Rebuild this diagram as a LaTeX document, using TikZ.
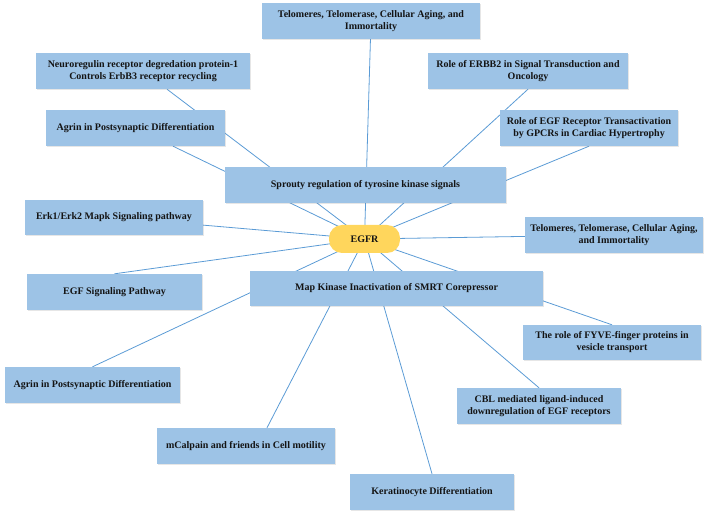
\documentclass[tikz,border=0pt]{standalone}
\usepackage{fontspec}
\setmainfont{Liberation Serif}
\usetikzlibrary{backgrounds,shadows}
\definecolor{boxblue}{RGB}{157,195,230}
\definecolor{linkblue}{RGB}{91,155,213}
\definecolor{hubgold}{RGB}{255,214,92}
\definecolor{inkdark}{RGB}{20,20,20}

\begin{document}
\begin{tikzpicture}[x=1pt, y=-1pt,
    box/.style={fill=boxblue, minimum height=36pt, inner sep=0pt, align=center,
        text=inkdark, font=\bfseries\fontsize{10}{12}\selectfont,
        drop shadow={shadow xshift=1pt, shadow yshift=-1pt, opacity=.2, fill=black!50}},
    hub/.style={fill=hubgold, rounded corners=13pt, minimum width=71pt, minimum height=28pt,
        inner sep=0pt, text=inkdark, font=\bfseries\fontsize{10}{12}\selectfont},
    link/.style={draw=linkblue, line width=0.8pt}]
    \useasboundingbox (0,0) rectangle (709,518);
    % upper ring
    \node[box, minimum width=218pt] (teltop) at (371,21) {Telomeres, Telomerase, Cellular Aging, and\\Immortality};
    \node[box, minimum width=214pt] (neuro) at (143,71) {Neuroregulin receptor degredation protein-1\\Controls ErbB3 receptor recycling};
    \node[box, minimum width=200pt] (erbb) at (528,71) {Role of ERBB2 in Signal Transduction and\\Oncology};
    \node[box, minimum width=179pt] (agrintop) at (135.5,128) {Agrin in Postsynaptic Differentiation};
    \node[box, minimum width=178pt] (egfrec) at (589,128) {Role of EGF Receptor Transactivation\\by GPCRs in Cardiac Hypertrophy};
    \node[box, minimum width=281pt] (sprouty) at (365.5,185) {Sprouty regulation of tyrosine kinase signals};
    % middle row
    \node[box, minimum width=178pt, minimum height=35pt] (erk) at (114,217.5) {Erk1/Erk2 Mapk Signaling pathway};
    \node[box, minimum width=178pt] (telright) at (614,235) {Telomeres, Telomerase, Cellular Aging,\\and Immortality};
    \node[box, minimum width=175pt] (egfsig) at (114.5,292) {EGF Signaling Pathway};
    \node[box, minimum width=293pt, minimum height=35pt] (mapk) at (396.5,288.5) {Map Kinase Inactivation of SMRT Corepressor};
    % lower ring
    \node[box, minimum width=178pt, minimum height=35pt] (fyve) at (612,342.5) {The role of FYVE-finger proteins in\\vesicle transport};
    \node[box, minimum width=175pt] (agrinbot) at (92.5,385) {Agrin in Postsynaptic Differentiation};
    \node[box, minimum width=164pt] (cbl) at (539,406) {CBL mediated ligand-induced\\downregulation of EGF receptors};
    \node[box, minimum width=178pt] (mcalp) at (246,446) {mCalpain and friends in Cell motility};
    \node[box, minimum width=164pt] (kera) at (432,492) {Keratinocyte Differentiation};
    % hub
    \node[hub] (egfr) at (364.5,239) {EGFR};
    % spokes run under the boxes
    \begin{scope}[on background layer]
        \draw[link] (egfr.center) -- (teltop);
        \draw[link] (egfr.center) -- (neuro);
        \draw[link] (egfr.center) -- (erbb.south);
        \draw[link] (egfr.center) -- (agrintop);
        \draw[link] (egfr.center) -- (egfrec.south);
        \draw[link] (egfr.center) -- (erk);
        \draw[link] (egfr.center) -- (telright);
        \draw[link] (egfr.center) -- (egfsig.north);
        \draw[link] (egfr.center) -- (fyve.north);
        \draw[link] (egfr.center) -- (agrinbot.north);
        \draw[link] (egfr.center) -- (cbl.north);
        \draw[link] (egfr.center) -- ([xshift=21pt]mcalp.north);
        \draw[link] (egfr.center) -- (kera.north);
    \end{scope}
\end{tikzpicture}
\end{document}
